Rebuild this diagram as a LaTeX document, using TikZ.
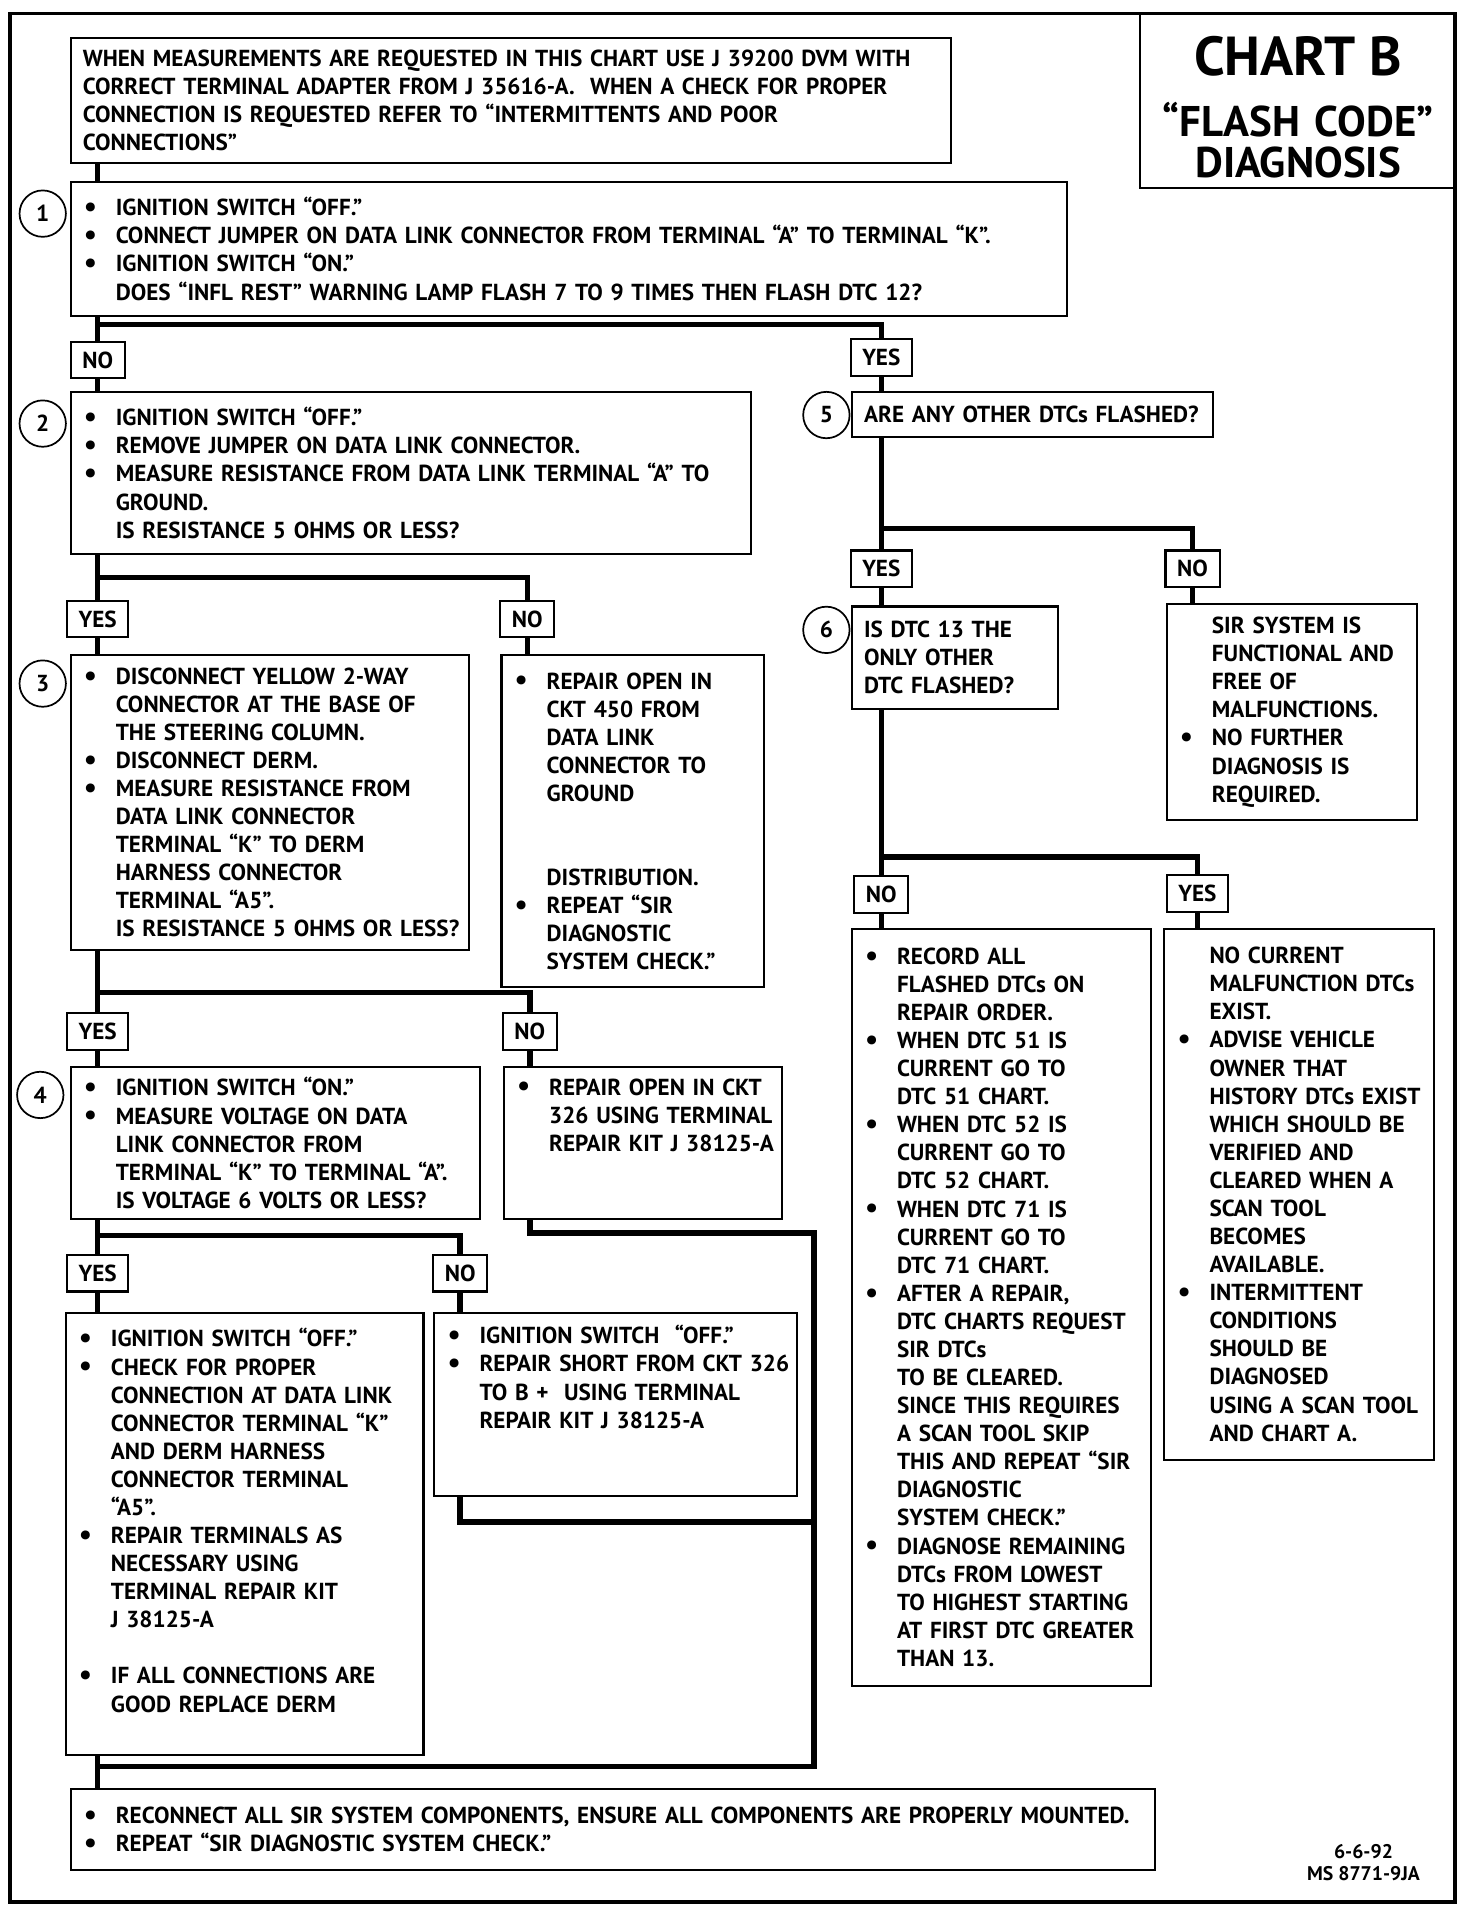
\documentclass[tikz,border=0pt]{standalone}
\usepackage{fontspec}
\setmainfont{PT Sans}
\usepackage{tikz}
\definecolor{cbInk}{HTML}{000000}
\newcommand{\chartfont}{\fontsize{13.5pt}{16.36pt}\selectfont\bfseries}
\newcommand{\bul}{\hspace*{0.27cm}\makebox[0.655cm][l]{\raisebox{-0.5pt}{\fontsize{17pt}{17pt}\selectfont\textbullet}}}
\newcommand{\ctd}{\hspace*{0.925cm}}
\newcommand{\pln}{\hspace*{0.25cm}}
\tikzset{
  stepbox/.style={
    draw=cbInk, line width=1.2pt, fill=white, anchor=north west,
    inner xsep=0pt, inner ysep=2pt, align=left, font=\chartfont
  },
  yesno/.style={draw=cbInk, line width=1.2pt, fill=white, minimum height=7.5mm,
    inner xsep=2.4mm, inner ysep=0pt, font=\chartfont},
  stepnum/.style={draw=cbInk, circle, line width=1pt, fill=white, minimum size=9.5mm,
    inner sep=0pt, font=\chartfont},
  titlebox/.style={draw=cbInk, line width=1.2pt, anchor=north west, align=center, inner sep=0pt},
  flowline/.style={cbInk, line width=3.2pt, line join=miter},
  chartframe/.style={cbInk, line width=2.2pt},
  stamp/.style={align=center, font=\fontsize{11.5pt}{12.8pt}\selectfont\bfseries}
}

\begin{document}
\begin{tikzpicture}[x=0.025cm, y=-0.025cm]
  \useasboundingbox (0,0) rectangle (1206,1568);
  \draw[chartframe] (8,11) rectangle (1192,1558);

  \node[titlebox, text width=6.475cm, minimum height=3.55cm,
    font=\fontsize{25pt}{24pt}\selectfont\bfseries] (title) at (933,11)
    {{\fontsize{32pt}{34pt}\selectfont\rule{0pt}{30pt}CHART B}\\[11pt] ``FLASH CODE''\\ DIAGNOSIS};

  \node[stepbox, text width=18.025cm, minimum height=2.575cm] (note) at (57,30) {%
    \pln WHEN MEASUREMENTS ARE REQUESTED IN THIS CHART USE J 39200 DVM WITH\\
    \pln CORRECT TERMINAL ADAPTER FROM J 35616-A.\ \ WHEN A CHECK FOR PROPER\\
    \pln CONNECTION IS REQUESTED REFER TO ``INTERMITTENTS AND POOR\\
    \pln CONNECTIONS''};

  % left column
  \node[stepbox, text width=20.4cm, minimum height=2.75cm] (step1) at (57,148) {%
    \bul IGNITION SWITCH ``OFF.''\\
    \bul CONNECT JUMPER ON DATA LINK CONNECTOR FROM TERMINAL ``A'' TO TERMINAL ``K''.\\
    \bul IGNITION SWITCH ``ON.''\\
    \ctd DOES ``INFL REST'' WARNING LAMP FLASH 7 TO 9 TIMES THEN FLASH DTC 12?};
  \node[stepbox, text width=13.925cm, minimum height=3.325cm] (step2) at (57,320) {%
    \bul IGNITION SWITCH ``OFF.''\\
    \bul REMOVE JUMPER ON DATA LINK CONNECTOR.\\
    \bul MEASURE RESISTANCE FROM DATA LINK TERMINAL ``A'' TO\\
    \ctd GROUND.\\
    \ctd IS RESISTANCE 5 OHMS OR LESS?};
  \node[stepbox, text width=8.15cm, minimum height=6.025cm] (step3) at (57,536) {%
    \bul DISCONNECT YELLOW 2-WAY\\
    \ctd CONNECTOR AT THE BASE OF\\
    \ctd THE STEERING COLUMN.\\
    \bul DISCONNECT DERM.\\
    \bul MEASURE RESISTANCE FROM\\
    \ctd DATA LINK CONNECTOR\\
    \ctd TERMINAL ``K'' TO DERM\\
    \ctd HARNESS CONNECTOR\\
    \ctd TERMINAL ``A5''.\\
    \ctd IS RESISTANCE 5 OHMS OR LESS?};
  \node[stepbox, text width=5.375cm, minimum height=6.8cm] (step3n) at (410,536) {%
    \bul REPAIR OPEN IN\\
    \ctd CKT 450 FROM\\
    \ctd DATA LINK\\
    \ctd CONNECTOR TO\\
    \ctd GROUND\\
    \mbox{}\\
    \mbox{}\\
    \ctd DISTRIBUTION.\\
    \bul REPEAT ``SIR\\
    \ctd DIAGNOSTIC\\
    \ctd SYSTEM CHECK.''};
  \node[stepbox, text width=8.375cm, minimum height=3.125cm] (step4) at (57,873) {%
    \bul IGNITION SWITCH ``ON.''\\
    \bul MEASURE VOLTAGE ON DATA\\
    \ctd LINK CONNECTOR FROM\\
    \ctd TERMINAL ``K'' TO TERMINAL ``A''.\\
    \ctd IS VOLTAGE 6 VOLTS OR LESS?};
  \node[stepbox, text width=5.7cm, minimum height=3.125cm] (step4n) at (412,873) {%
    \bul REPAIR OPEN IN CKT\\
    \ctd 326 USING TERMINAL\\
    \ctd REPAIR KIT J 38125-A\\
    \mbox{}\\
    \mbox{}};
  \node[stepbox, text width=7.325cm, minimum height=9.05cm] (step4y) at (53,1075) {%
    \bul IGNITION SWITCH ``OFF.''\\
    \bul CHECK FOR PROPER\\
    \ctd CONNECTION AT DATA LINK\\
    \ctd CONNECTOR TERMINAL ``K''\\
    \ctd AND DERM HARNESS\\
    \ctd CONNECTOR TERMINAL\\
    \ctd ``A5''.\\
    \bul REPAIR TERMINALS AS\\
    \ctd NECESSARY USING\\
    \ctd TERMINAL REPAIR KIT\\
    \ctd J 38125-A\\
    \mbox{}\\
    \bul IF ALL CONNECTIONS ARE\\
    \ctd GOOD REPLACE DERM\\
    \mbox{}};
  \node[stepbox, text width=7.425cm, minimum height=3.75cm] (step4nn) at (355,1075) {%
    \bul IGNITION SWITCH\ \ ``OFF.''\\
    \bul REPAIR SHORT FROM CKT 326\\
    \ctd TO B +\ \ USING TERMINAL\\
    \ctd REPAIR KIT J 38125-A\\
    \mbox{}\\
    \mbox{}};
  \node[stepbox, text width=22.2cm, minimum height=1.65cm] (final) at (57,1465) {%
    \bul RECONNECT ALL SIR SYSTEM COMPONENTS, ENSURE ALL COMPONENTS ARE PROPERLY MOUNTED.\\
    \bul REPEAT ``SIR DIAGNOSTIC SYSTEM CHECK.''};

  % right column
  \node[stepbox, text width=7.4cm, minimum height=0.925cm] (step5) at (697,320) {%
    \pln ARE ANY OTHER DTCs FLASHED?};
  \node[stepbox, text width=4.225cm, minimum height=2.1cm] (step6) at (697,496) {%
    \pln IS DTC 13 THE\\
    \pln ONLY OTHER\\
    \pln DTC FLASHED?};
  \node[stepbox, text width=5.125cm, minimum height=4.425cm] (step5n) at (955,494) {%
    \ctd SIR SYSTEM IS\\
    \ctd FUNCTIONAL AND\\
    \ctd FREE OF\\
    \ctd MALFUNCTIONS.\\
    \bul NO FURTHER\\
    \ctd DIAGNOSIS IS\\
    \ctd REQUIRED.};
  \node[stepbox, text width=6.125cm, minimum height=15.5cm] (step6n) at (697,760) {%
    \bul RECORD ALL\\
    \ctd FLASHED DTCs ON\\
    \ctd REPAIR ORDER.\\
    \bul WHEN DTC 51 IS\\
    \ctd CURRENT GO TO\\
    \ctd DTC 51 CHART.\\
    \bul WHEN DTC 52 IS\\
    \ctd CURRENT GO TO\\
    \ctd DTC 52 CHART.\\
    \bul WHEN DTC 71 IS\\
    \ctd CURRENT GO TO\\
    \ctd DTC 71 CHART.\\
    \bul AFTER A REPAIR,\\
    \ctd DTC CHARTS REQUEST\\
    \ctd SIR DTCs\\
    \ctd TO BE CLEARED.\\
    \ctd SINCE THIS REQUIRES\\
    \ctd A SCAN TOOL SKIP\\
    \ctd THIS AND REPEAT ``SIR\\
    \ctd DIAGNOSTIC\\
    \ctd SYSTEM CHECK.''\\
    \bul DIAGNOSE REMAINING\\
    \ctd DTCs FROM LOWEST\\
    \ctd TO HIGHEST STARTING\\
    \ctd AT FIRST DTC GREATER\\
    \ctd THAN 13.};
  \node[stepbox, text width=5.525cm, minimum height=10.875cm] (step6y) at (953,760) {%
    \ctd NO CURRENT\\
    \ctd MALFUNCTION DTCs\\
    \ctd EXIST.\\
    \bul ADVISE VEHICLE\\
    \ctd OWNER THAT\\
    \ctd HISTORY DTCs EXIST\\
    \ctd WHICH SHOULD BE\\
    \ctd VERIFIED AND\\
    \ctd CLEARED WHEN A\\
    \ctd SCAN TOOL\\
    \ctd BECOMES\\
    \ctd AVAILABLE.\\
    \bul INTERMITTENT\\
    \ctd CONDITIONS\\
    \ctd SHOULD BE\\
    \ctd DIAGNOSED\\
    \ctd USING A SCAN TOOL\\
    \ctd AND CHART A.};

  \node[stamp] (stamp) at (1117,1526) {6-6-92\\MS 8771-9JA};

  % yes / no tags
  \node[yesno] (lab1n) at (80,295) {NO};
  \node[yesno] (lab1y) at (722,293) {YES};
  \node[yesno] (lab2y) at (80,507) {YES};
  \node[yesno] (lab2n) at (432,507) {NO};
  \node[yesno] (lab3y) at (80,845) {YES};
  \node[yesno] (lab3n) at (434,845) {NO};
  \node[yesno] (lab4y) at (80,1043) {YES};
  \node[yesno] (lab4n) at (377,1043) {NO};
  \node[yesno] (lab5y) at (722,466) {YES};
  \node[yesno] (lab5n) at (977,466) {NO};
  \node[yesno] (lab6n) at (722,733) {NO};
  \node[yesno] (lab6y) at (981,732) {YES};

  % step numbers
  \node[stepnum] (num1) at (35,175) {1};
  \node[stepnum] (num2) at (35,347) {2};
  \node[stepnum] (num3) at (35,560) {3};
  \node[stepnum] (num4) at (33,897) {4};
  \node[stepnum] (num5) at (677,340) {5};
  \node[stepnum] (num6) at (677,516) {6};

  \coordinate (j1) at (80,266);
  \coordinate (j2) at (80,473);
  \coordinate (j3) at (80,813);
  \coordinate (j4) at (80,1012);
  \coordinate (j5) at (722,433);
  \coordinate (j6) at (722,702);
  \coordinate (m1) at (667,1010);
  \coordinate (m2) at (667,1247);
  \coordinate (m3) at (667,1447);

  \draw[flowline] (note.south -| lab1n) -- (step1.north -| lab1n);
  \draw[flowline] (step1.south -| lab1n) -- (lab1n.north);
  \draw[flowline] (j1) -| (lab1y.north);
  \draw[flowline] (lab1n.south) -- (step2.north -| lab1n);
  \draw[flowline] (lab1y.south) -- (step5.north -| lab1y);

  \draw[flowline] (step2.south -| lab2y) -- (lab2y.north);
  \draw[flowline] (j2) -| (lab2n.north);
  \draw[flowline] (lab2y.south) -- (step3.north -| lab2y);
  \draw[flowline] (lab2n.south) -- (step3n.north -| lab2n);

  \draw[flowline] (step3.south -| lab3y) -- (lab3y.north);
  \draw[flowline] (j3) -| (lab3n.north);
  \draw[flowline] (lab3y.south) -- (step4.north -| lab3y);
  \draw[flowline] (lab3n.south) -- (step4n.north -| lab3n);

  \draw[flowline] (step4.south -| lab4y) -- (lab4y.north);
  \draw[flowline] (j4) -| (lab4n.north);
  \draw[flowline] (lab4y.south) -- (step4y.north -| lab4y);
  \draw[flowline] (lab4n.south) -- (step4nn.north -| lab4n);

  \draw[flowline] (step4n.south -| lab3n) |- (m1) -- (m3) -- (m3 -| lab4y);
  \draw[flowline] (step4nn.south -| lab4n) |- (m2);
  \draw[flowline] (step4y.south -| lab4y) -- (final.north -| lab4y);

  \draw[flowline] (step5.south -| lab5y) -- (lab5y.north);
  \draw[flowline] (j5) -| (lab5n.north);
  \draw[flowline] (lab5y.south) -- (step6.north -| lab5y);
  \draw[flowline] (lab5n.south) -- (step5n.north -| lab5n);

  \draw[flowline] (step6.south -| lab6n) -- (lab6n.north);
  \draw[flowline] (j6) -| (lab6y.north);
  \draw[flowline] (lab6n.south) -- (step6n.north -| lab6n);
  \draw[flowline] (lab6y.south) -- (step6y.north -| lab6y);
\end{tikzpicture}
\end{document}
